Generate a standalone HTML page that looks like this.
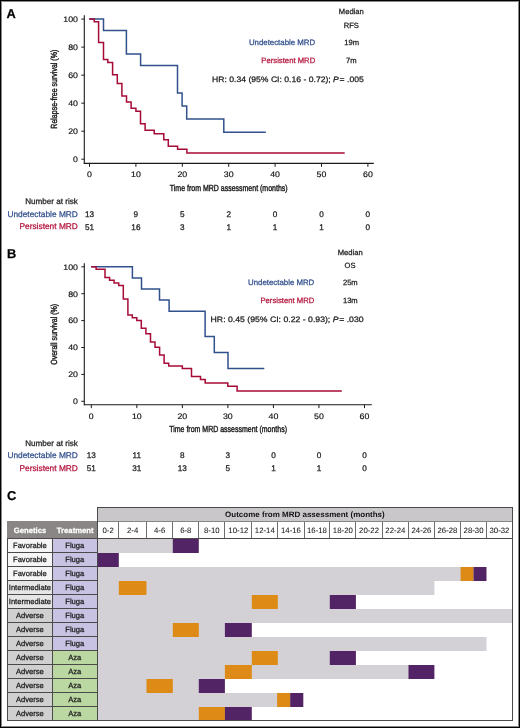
<!DOCTYPE html>
<html><head><meta charset="utf-8"><style>
html,body{margin:0;padding:0;background:#fff;}
#w{position:relative;width:520px;height:728px;overflow:hidden;background:#fff;}
#w svg{position:absolute;left:0;top:0;will-change:transform;}
#w svg text{font-family:"Liberation Sans", sans-serif;text-rendering:geometricPrecision;}
#bd{position:absolute;left:0;top:0;width:518px;height:726px;border:1px solid #000;}
</style></head><body><div id="w">
<svg width="520" height="728" viewBox="0 0 520 728">
<text x="6.40" y="18.00" font-size="12.8" fill="#000" stroke="#000" stroke-width="0.25" font-weight="bold">A</text>
<line x1="84.30" y1="15.30" x2="84.30" y2="163.90" stroke="#1a1a1a" stroke-width="1.1"/>
<line x1="83.80" y1="163.40" x2="373.80" y2="163.40" stroke="#1a1a1a" stroke-width="1.1"/>
<line x1="81.30" y1="159.20" x2="84.30" y2="159.20" stroke="#1a1a1a" stroke-width="1"/>
<text x="78.00" y="162.05" font-size="8.0" fill="#0a0a0a" stroke="#0a0a0a" stroke-width="0.15" text-anchor="end" textLength="4.89" lengthAdjust="spacingAndGlyphs">0</text>
<line x1="81.30" y1="131.18" x2="84.30" y2="131.18" stroke="#1a1a1a" stroke-width="1"/>
<text x="78.00" y="134.03" font-size="8.0" fill="#0a0a0a" stroke="#0a0a0a" stroke-width="0.15" text-anchor="end" textLength="9.79" lengthAdjust="spacingAndGlyphs">20</text>
<line x1="81.30" y1="103.16" x2="84.30" y2="103.16" stroke="#1a1a1a" stroke-width="1"/>
<text x="78.00" y="106.01" font-size="8.0" fill="#0a0a0a" stroke="#0a0a0a" stroke-width="0.15" text-anchor="end" textLength="9.79" lengthAdjust="spacingAndGlyphs">40</text>
<line x1="81.30" y1="75.14" x2="84.30" y2="75.14" stroke="#1a1a1a" stroke-width="1"/>
<text x="78.00" y="77.99" font-size="8.0" fill="#0a0a0a" stroke="#0a0a0a" stroke-width="0.15" text-anchor="end" textLength="9.79" lengthAdjust="spacingAndGlyphs">60</text>
<line x1="81.30" y1="47.12" x2="84.30" y2="47.12" stroke="#1a1a1a" stroke-width="1"/>
<text x="78.00" y="49.97" font-size="8.0" fill="#0a0a0a" stroke="#0a0a0a" stroke-width="0.15" text-anchor="end" textLength="9.79" lengthAdjust="spacingAndGlyphs">80</text>
<line x1="81.30" y1="19.10" x2="84.30" y2="19.10" stroke="#1a1a1a" stroke-width="1"/>
<text x="78.00" y="21.95" font-size="8.0" fill="#0a0a0a" stroke="#0a0a0a" stroke-width="0.15" text-anchor="end" textLength="14.68" lengthAdjust="spacingAndGlyphs">100</text>
<line x1="89.50" y1="163.40" x2="89.50" y2="166.80" stroke="#1a1a1a" stroke-width="1"/>
<text x="89.50" y="177.40" font-size="8.0" fill="#0a0a0a" stroke="#0a0a0a" stroke-width="0.15" text-anchor="middle" textLength="4.89" lengthAdjust="spacingAndGlyphs">0</text>
<line x1="135.90" y1="163.40" x2="135.90" y2="166.80" stroke="#1a1a1a" stroke-width="1"/>
<text x="135.90" y="177.40" font-size="8.0" fill="#0a0a0a" stroke="#0a0a0a" stroke-width="0.15" text-anchor="middle" textLength="9.79" lengthAdjust="spacingAndGlyphs">10</text>
<line x1="182.30" y1="163.40" x2="182.30" y2="166.80" stroke="#1a1a1a" stroke-width="1"/>
<text x="182.30" y="177.40" font-size="8.0" fill="#0a0a0a" stroke="#0a0a0a" stroke-width="0.15" text-anchor="middle" textLength="9.79" lengthAdjust="spacingAndGlyphs">20</text>
<line x1="228.70" y1="163.40" x2="228.70" y2="166.80" stroke="#1a1a1a" stroke-width="1"/>
<text x="228.70" y="177.40" font-size="8.0" fill="#0a0a0a" stroke="#0a0a0a" stroke-width="0.15" text-anchor="middle" textLength="9.79" lengthAdjust="spacingAndGlyphs">30</text>
<line x1="275.10" y1="163.40" x2="275.10" y2="166.80" stroke="#1a1a1a" stroke-width="1"/>
<text x="275.10" y="177.40" font-size="8.0" fill="#0a0a0a" stroke="#0a0a0a" stroke-width="0.15" text-anchor="middle" textLength="9.79" lengthAdjust="spacingAndGlyphs">40</text>
<line x1="321.50" y1="163.40" x2="321.50" y2="166.80" stroke="#1a1a1a" stroke-width="1"/>
<text x="321.50" y="177.40" font-size="8.0" fill="#0a0a0a" stroke="#0a0a0a" stroke-width="0.15" text-anchor="middle" textLength="9.79" lengthAdjust="spacingAndGlyphs">50</text>
<line x1="367.90" y1="163.40" x2="367.90" y2="166.80" stroke="#1a1a1a" stroke-width="1"/>
<text x="367.90" y="177.40" font-size="8.0" fill="#0a0a0a" stroke="#0a0a0a" stroke-width="0.15" text-anchor="middle" textLength="9.79" lengthAdjust="spacingAndGlyphs">60</text>
<path d="M89.20,18.90H103.50V30.40H126.40V54.00H140.60V65.60H177.50V92.90H182.10V105.90H186.70V119.00H223.80V132.30H265.80" fill="none" stroke="#31518b" stroke-width="1.5" stroke-linejoin="miter" stroke-linecap="butt"/>
<path d="M89.20,18.90H94.20V21.70H98.60V42.40H103.50V59.40H107.80V62.50H112.60V74.70H117.30V83.40H121.90V95.90H126.50V101.90H131.10V108.30H135.90V111.20H140.50V123.80H145.10V130.20H154.20V133.70H163.80V139.80H168.30V146.20H177.60V149.20H186.90V152.90H344.70" fill="none" stroke="#a60b36" stroke-width="1.5" stroke-linejoin="miter" stroke-linecap="butt"/>
<text x="351.30" y="14.40" font-size="7.6" fill="#1a1a1a" stroke="#1a1a1a" stroke-width="0.25" text-anchor="middle">Median</text>
<text x="351.30" y="28.00" font-size="7.6" fill="#1a1a1a" stroke="#1a1a1a" stroke-width="0.25" text-anchor="middle">RFS</text>
<text x="315.20" y="45.00" font-size="7.85" fill="#32508d" stroke="#32508d" stroke-width="0.25" text-anchor="end">Undetectable MRD</text>
<text x="351.60" y="45.00" font-size="7.6" fill="#1a1a1a" stroke="#1a1a1a" stroke-width="0.25" text-anchor="middle">19m</text>
<text x="315.20" y="62.80" font-size="7.7" fill="#b3143d" stroke="#b3143d" stroke-width="0.25" text-anchor="end">Persistent MRD</text>
<text x="351.40" y="62.80" font-size="7.6" fill="#1a1a1a" stroke="#1a1a1a" stroke-width="0.25" text-anchor="middle">7m</text>
<text x="212.00" y="81.90" font-size="7.9" fill="#1a1a1a" stroke="#1a1a1a" stroke-width="0.25" textLength="151.80" lengthAdjust="spacingAndGlyphs">HR: 0.34 (95% CI: 0.16 - 0.72); <tspan font-style="italic">P</tspan>&#8202;= .005</text>
<text x="0.00" y="0.00" font-size="8.9" fill="#1a1a1a" stroke="#1a1a1a" stroke-width="0.4" transform="translate(56.6,89.2) rotate(-90)" text-anchor="middle" textLength="79" lengthAdjust="spacingAndGlyphs">Relapse-free survival (%)</text>
<text x="169.80" y="191.00" font-size="8.8" fill="#1a1a1a" stroke="#1a1a1a" stroke-width="0.4" textLength="117.80" lengthAdjust="spacingAndGlyphs">Time from MRD assessment (months)</text>
<text x="77.90" y="204.20" font-size="8.1" fill="#1a1a1a" stroke="#1a1a1a" stroke-width="0.25" text-anchor="end">Number at risk</text>
<text x="77.90" y="216.80" font-size="8.35" fill="#32508d" stroke="#32508d" stroke-width="0.25" text-anchor="end">Undetectable MRD</text>
<text x="77.90" y="229.40" font-size="8.35" fill="#b3143d" stroke="#b3143d" stroke-width="0.25" text-anchor="end">Persistent MRD</text>
<text x="89.50" y="216.90" font-size="8.2" fill="#1a1a1a" stroke="#1a1a1a" stroke-width="0.25" text-anchor="middle">13</text>
<text x="89.50" y="229.60" font-size="8.2" fill="#1a1a1a" stroke="#1a1a1a" stroke-width="0.25" text-anchor="middle">51</text>
<text x="135.90" y="216.90" font-size="8.2" fill="#1a1a1a" stroke="#1a1a1a" stroke-width="0.25" text-anchor="middle">9</text>
<text x="135.90" y="229.60" font-size="8.2" fill="#1a1a1a" stroke="#1a1a1a" stroke-width="0.25" text-anchor="middle">16</text>
<text x="182.30" y="216.90" font-size="8.2" fill="#1a1a1a" stroke="#1a1a1a" stroke-width="0.25" text-anchor="middle">5</text>
<text x="182.30" y="229.60" font-size="8.2" fill="#1a1a1a" stroke="#1a1a1a" stroke-width="0.25" text-anchor="middle">3</text>
<text x="228.70" y="216.90" font-size="8.2" fill="#1a1a1a" stroke="#1a1a1a" stroke-width="0.25" text-anchor="middle">2</text>
<text x="228.70" y="229.60" font-size="8.2" fill="#1a1a1a" stroke="#1a1a1a" stroke-width="0.25" text-anchor="middle">1</text>
<text x="275.10" y="216.90" font-size="8.2" fill="#1a1a1a" stroke="#1a1a1a" stroke-width="0.25" text-anchor="middle">0</text>
<text x="275.10" y="229.60" font-size="8.2" fill="#1a1a1a" stroke="#1a1a1a" stroke-width="0.25" text-anchor="middle">1</text>
<text x="321.50" y="216.90" font-size="8.2" fill="#1a1a1a" stroke="#1a1a1a" stroke-width="0.25" text-anchor="middle">0</text>
<text x="321.50" y="229.60" font-size="8.2" fill="#1a1a1a" stroke="#1a1a1a" stroke-width="0.25" text-anchor="middle">1</text>
<text x="367.90" y="216.90" font-size="8.2" fill="#1a1a1a" stroke="#1a1a1a" stroke-width="0.25" text-anchor="middle">0</text>
<text x="367.90" y="229.60" font-size="8.2" fill="#1a1a1a" stroke="#1a1a1a" stroke-width="0.25" text-anchor="middle">0</text>
<text x="6.90" y="258.30" font-size="12.8" fill="#000" stroke="#000" stroke-width="0.25" font-weight="bold">B</text>
<line x1="84.30" y1="263.20" x2="84.30" y2="405.20" stroke="#1a1a1a" stroke-width="1.1"/>
<line x1="83.80" y1="404.70" x2="371.80" y2="404.70" stroke="#1a1a1a" stroke-width="1.1"/>
<line x1="81.30" y1="401.30" x2="84.30" y2="401.30" stroke="#1a1a1a" stroke-width="1"/>
<text x="78.00" y="404.15" font-size="8.0" fill="#0a0a0a" stroke="#0a0a0a" stroke-width="0.15" text-anchor="end" textLength="4.89" lengthAdjust="spacingAndGlyphs">0</text>
<line x1="81.30" y1="374.40" x2="84.30" y2="374.40" stroke="#1a1a1a" stroke-width="1"/>
<text x="78.00" y="377.25" font-size="8.0" fill="#0a0a0a" stroke="#0a0a0a" stroke-width="0.15" text-anchor="end" textLength="9.79" lengthAdjust="spacingAndGlyphs">20</text>
<line x1="81.30" y1="347.50" x2="84.30" y2="347.50" stroke="#1a1a1a" stroke-width="1"/>
<text x="78.00" y="350.35" font-size="8.0" fill="#0a0a0a" stroke="#0a0a0a" stroke-width="0.15" text-anchor="end" textLength="9.79" lengthAdjust="spacingAndGlyphs">40</text>
<line x1="81.30" y1="320.60" x2="84.30" y2="320.60" stroke="#1a1a1a" stroke-width="1"/>
<text x="78.00" y="323.45" font-size="8.0" fill="#0a0a0a" stroke="#0a0a0a" stroke-width="0.15" text-anchor="end" textLength="9.79" lengthAdjust="spacingAndGlyphs">60</text>
<line x1="81.30" y1="293.70" x2="84.30" y2="293.70" stroke="#1a1a1a" stroke-width="1"/>
<text x="78.00" y="296.55" font-size="8.0" fill="#0a0a0a" stroke="#0a0a0a" stroke-width="0.15" text-anchor="end" textLength="9.79" lengthAdjust="spacingAndGlyphs">80</text>
<line x1="81.30" y1="266.80" x2="84.30" y2="266.80" stroke="#1a1a1a" stroke-width="1"/>
<text x="78.00" y="269.65" font-size="8.0" fill="#0a0a0a" stroke="#0a0a0a" stroke-width="0.15" text-anchor="end" textLength="14.68" lengthAdjust="spacingAndGlyphs">100</text>
<line x1="91.30" y1="404.70" x2="91.30" y2="408.10" stroke="#1a1a1a" stroke-width="1"/>
<text x="91.30" y="418.70" font-size="8.0" fill="#0a0a0a" stroke="#0a0a0a" stroke-width="0.15" text-anchor="middle" textLength="4.89" lengthAdjust="spacingAndGlyphs">0</text>
<line x1="136.83" y1="404.70" x2="136.83" y2="408.10" stroke="#1a1a1a" stroke-width="1"/>
<text x="136.83" y="418.70" font-size="8.0" fill="#0a0a0a" stroke="#0a0a0a" stroke-width="0.15" text-anchor="middle" textLength="9.79" lengthAdjust="spacingAndGlyphs">10</text>
<line x1="182.36" y1="404.70" x2="182.36" y2="408.10" stroke="#1a1a1a" stroke-width="1"/>
<text x="182.36" y="418.70" font-size="8.0" fill="#0a0a0a" stroke="#0a0a0a" stroke-width="0.15" text-anchor="middle" textLength="9.79" lengthAdjust="spacingAndGlyphs">20</text>
<line x1="227.89" y1="404.70" x2="227.89" y2="408.10" stroke="#1a1a1a" stroke-width="1"/>
<text x="227.89" y="418.70" font-size="8.0" fill="#0a0a0a" stroke="#0a0a0a" stroke-width="0.15" text-anchor="middle" textLength="9.79" lengthAdjust="spacingAndGlyphs">30</text>
<line x1="273.42" y1="404.70" x2="273.42" y2="408.10" stroke="#1a1a1a" stroke-width="1"/>
<text x="273.42" y="418.70" font-size="8.0" fill="#0a0a0a" stroke="#0a0a0a" stroke-width="0.15" text-anchor="middle" textLength="9.79" lengthAdjust="spacingAndGlyphs">40</text>
<line x1="318.95" y1="404.70" x2="318.95" y2="408.10" stroke="#1a1a1a" stroke-width="1"/>
<text x="318.95" y="418.70" font-size="8.0" fill="#0a0a0a" stroke="#0a0a0a" stroke-width="0.15" text-anchor="middle" textLength="9.79" lengthAdjust="spacingAndGlyphs">50</text>
<line x1="364.48" y1="404.70" x2="364.48" y2="408.10" stroke="#1a1a1a" stroke-width="1"/>
<text x="364.48" y="418.70" font-size="8.0" fill="#0a0a0a" stroke="#0a0a0a" stroke-width="0.15" text-anchor="middle" textLength="9.79" lengthAdjust="spacingAndGlyphs">60</text>
<path d="M91.20,266.70H132.40V277.90H141.50V288.90H159.50V300.00H169.10V311.20H205.10V336.50H214.30V352.60H228.00V368.50H264.30" fill="none" stroke="#31518b" stroke-width="1.5" stroke-linejoin="miter" stroke-linecap="butt"/>
<path d="M91.20,266.70H96.10V269.30H105.00V277.50H109.60V280.30H114.10V283.00H118.70V285.60H123.30V299.10H127.90V315.00H132.30V317.70H136.80V320.60H141.30V328.30H145.90V333.70H150.50V342.10H155.00V347.30H159.60V355.00H164.10V363.30H168.70V366.00H182.30V368.60H191.50V376.50H200.50V379.60H205.20V382.90H227.80V386.20H237.10V391.10H341.80" fill="none" stroke="#a60b36" stroke-width="1.5" stroke-linejoin="miter" stroke-linecap="butt"/>
<text x="350.20" y="254.70" font-size="7.6" fill="#1a1a1a" stroke="#1a1a1a" stroke-width="0.25" text-anchor="middle">Median</text>
<text x="350.10" y="268.30" font-size="7.6" fill="#1a1a1a" stroke="#1a1a1a" stroke-width="0.25" text-anchor="middle">OS</text>
<text x="314.30" y="284.90" font-size="7.85" fill="#32508d" stroke="#32508d" stroke-width="0.25" text-anchor="end">Undetectable MRD</text>
<text x="350.30" y="285.00" font-size="7.6" fill="#1a1a1a" stroke="#1a1a1a" stroke-width="0.25" text-anchor="middle">25m</text>
<text x="314.30" y="302.80" font-size="7.7" fill="#b3143d" stroke="#b3143d" stroke-width="0.25" text-anchor="end">Persistent MRD</text>
<text x="350.30" y="302.90" font-size="7.6" fill="#1a1a1a" stroke="#1a1a1a" stroke-width="0.25" text-anchor="middle">13m</text>
<text x="210.60" y="322.00" font-size="7.9" fill="#1a1a1a" stroke="#1a1a1a" stroke-width="0.25" textLength="153.00" lengthAdjust="spacingAndGlyphs">HR: 0.45 (95% CI: 0.22 - 0.93); <tspan font-style="italic">P</tspan>&#8202;= .030</text>
<text x="0.00" y="0.00" font-size="8.9" fill="#1a1a1a" stroke="#1a1a1a" stroke-width="0.4" transform="translate(56.6,334.3) rotate(-90)" text-anchor="middle" textLength="61" lengthAdjust="spacingAndGlyphs">Overall survival (%)</text>
<text x="169.20" y="432.20" font-size="8.8" fill="#1a1a1a" stroke="#1a1a1a" stroke-width="0.4" textLength="117.80" lengthAdjust="spacingAndGlyphs">Time from MRD assessment (months)</text>
<text x="77.90" y="445.60" font-size="8.1" fill="#1a1a1a" stroke="#1a1a1a" stroke-width="0.25" text-anchor="end">Number at risk</text>
<text x="77.90" y="458.10" font-size="8.35" fill="#32508d" stroke="#32508d" stroke-width="0.25" text-anchor="end">Undetectable MRD</text>
<text x="77.90" y="470.80" font-size="8.35" fill="#b3143d" stroke="#b3143d" stroke-width="0.25" text-anchor="end">Persistent MRD</text>
<text x="91.30" y="458.10" font-size="8.2" fill="#1a1a1a" stroke="#1a1a1a" stroke-width="0.25" text-anchor="middle">13</text>
<text x="91.30" y="470.60" font-size="8.2" fill="#1a1a1a" stroke="#1a1a1a" stroke-width="0.25" text-anchor="middle">51</text>
<text x="136.83" y="458.10" font-size="8.2" fill="#1a1a1a" stroke="#1a1a1a" stroke-width="0.25" text-anchor="middle">11</text>
<text x="136.83" y="470.60" font-size="8.2" fill="#1a1a1a" stroke="#1a1a1a" stroke-width="0.25" text-anchor="middle">31</text>
<text x="182.36" y="458.10" font-size="8.2" fill="#1a1a1a" stroke="#1a1a1a" stroke-width="0.25" text-anchor="middle">8</text>
<text x="182.36" y="470.60" font-size="8.2" fill="#1a1a1a" stroke="#1a1a1a" stroke-width="0.25" text-anchor="middle">13</text>
<text x="227.89" y="458.10" font-size="8.2" fill="#1a1a1a" stroke="#1a1a1a" stroke-width="0.25" text-anchor="middle">3</text>
<text x="227.89" y="470.60" font-size="8.2" fill="#1a1a1a" stroke="#1a1a1a" stroke-width="0.25" text-anchor="middle">5</text>
<text x="273.42" y="458.10" font-size="8.2" fill="#1a1a1a" stroke="#1a1a1a" stroke-width="0.25" text-anchor="middle">0</text>
<text x="273.42" y="470.60" font-size="8.2" fill="#1a1a1a" stroke="#1a1a1a" stroke-width="0.25" text-anchor="middle">1</text>
<text x="318.95" y="458.10" font-size="8.2" fill="#1a1a1a" stroke="#1a1a1a" stroke-width="0.25" text-anchor="middle">0</text>
<text x="318.95" y="470.60" font-size="8.2" fill="#1a1a1a" stroke="#1a1a1a" stroke-width="0.25" text-anchor="middle">1</text>
<text x="364.48" y="458.10" font-size="8.2" fill="#1a1a1a" stroke="#1a1a1a" stroke-width="0.25" text-anchor="middle">0</text>
<text x="364.48" y="470.60" font-size="8.2" fill="#1a1a1a" stroke="#1a1a1a" stroke-width="0.25" text-anchor="middle">0</text>
<text x="7.00" y="500.20" font-size="12.8" fill="#000" stroke="#000" stroke-width="0.25" font-weight="bold">C</text>
<rect x="97.00" y="507.00" width="415.00" height="14.00" fill="#c9c7c9"/>
<text x="304.90" y="516.50" font-size="7.8" fill="#111" font-weight="bold" text-anchor="middle" textLength="159.60" lengthAdjust="spacingAndGlyphs">Outcome from MRD assessment (months)</text>
<rect x="7.00" y="521.00" width="90.00" height="17.00" fill="#8a8685"/>
<text x="30.00" y="532.60" font-size="7.7" fill="#fff" stroke="#fff" stroke-width="0.25" font-weight="bold" text-anchor="middle">Genetics</text>
<text x="75.20" y="532.80" font-size="7.7" fill="#fff" stroke="#fff" stroke-width="0.25" font-weight="bold" text-anchor="middle">Treatment</text>
<rect x="97.00" y="521.00" width="415.00" height="17.00" fill="#fff"/>
<text x="108.10" y="532.60" font-size="7.8" fill="#1a1a1a" stroke="#1a1a1a" stroke-width="0.05" text-anchor="middle">0-2</text>
<text x="132.65" y="532.60" font-size="7.8" fill="#1a1a1a" stroke="#1a1a1a" stroke-width="0.05" text-anchor="middle">2-4</text>
<text x="159.65" y="532.60" font-size="7.8" fill="#1a1a1a" stroke="#1a1a1a" stroke-width="0.05" text-anchor="middle">4-6</text>
<text x="185.80" y="532.60" font-size="7.8" fill="#1a1a1a" stroke="#1a1a1a" stroke-width="0.05" text-anchor="middle">6-8</text>
<text x="211.85" y="532.60" font-size="7.8" fill="#1a1a1a" stroke="#1a1a1a" stroke-width="0.05" text-anchor="middle">8-10</text>
<text x="238.35" y="532.60" font-size="7.8" fill="#1a1a1a" stroke="#1a1a1a" stroke-width="0.05" text-anchor="middle">10-12</text>
<text x="264.80" y="532.60" font-size="7.8" fill="#1a1a1a" stroke="#1a1a1a" stroke-width="0.05" text-anchor="middle">12-14</text>
<text x="291.00" y="532.60" font-size="7.8" fill="#1a1a1a" stroke="#1a1a1a" stroke-width="0.05" text-anchor="middle">14-16</text>
<text x="317.00" y="532.60" font-size="7.8" fill="#1a1a1a" stroke="#1a1a1a" stroke-width="0.05" text-anchor="middle">16-18</text>
<text x="342.85" y="532.60" font-size="7.8" fill="#1a1a1a" stroke="#1a1a1a" stroke-width="0.05" text-anchor="middle">18-20</text>
<text x="369.05" y="532.60" font-size="7.8" fill="#1a1a1a" stroke="#1a1a1a" stroke-width="0.05" text-anchor="middle">20-22</text>
<text x="395.35" y="532.60" font-size="7.8" fill="#1a1a1a" stroke="#1a1a1a" stroke-width="0.05" text-anchor="middle">22-24</text>
<text x="421.45" y="532.60" font-size="7.8" fill="#1a1a1a" stroke="#1a1a1a" stroke-width="0.05" text-anchor="middle">24-26</text>
<text x="447.50" y="532.60" font-size="7.8" fill="#1a1a1a" stroke="#1a1a1a" stroke-width="0.05" text-anchor="middle">26-28</text>
<text x="473.55" y="532.60" font-size="7.8" fill="#1a1a1a" stroke="#1a1a1a" stroke-width="0.05" text-anchor="middle">28-30</text>
<text x="499.50" y="532.60" font-size="7.8" fill="#1a1a1a" stroke="#1a1a1a" stroke-width="0.05" text-anchor="middle">30-32</text>
<rect x="7.00" y="539.00" width="45.00" height="14.00" fill="#f6f6f6"/>
<rect x="52.00" y="539.00" width="45.00" height="14.00" fill="#c8c2e3"/>
<text x="29.90" y="548.00" font-size="7.6" fill="#1a1a1a" stroke="#1a1a1a" stroke-width="0.25" text-anchor="middle">Favorable</text>
<text x="74.80" y="548.00" font-size="7.6" fill="#1a1a1a" stroke="#1a1a1a" stroke-width="0.25" text-anchor="middle">Fluga</text>
<rect x="98.00" y="539.00" width="75.80" height="14.00" fill="#d3d1d6"/>
<rect x="172.80" y="539.00" width="26.00" height="14.00" fill="#532465"/>
<rect x="7.00" y="553.00" width="45.00" height="14.00" fill="#f6f6f6"/>
<rect x="52.00" y="553.00" width="45.00" height="14.00" fill="#c8c2e3"/>
<text x="29.90" y="562.00" font-size="7.6" fill="#1a1a1a" stroke="#1a1a1a" stroke-width="0.25" text-anchor="middle">Favorable</text>
<text x="74.80" y="562.00" font-size="7.6" fill="#1a1a1a" stroke="#1a1a1a" stroke-width="0.25" text-anchor="middle">Fluga</text>
<rect x="98.00" y="553.00" width="20.80" height="14.00" fill="#532465"/>
<rect x="7.00" y="567.00" width="45.00" height="14.00" fill="#f6f6f6"/>
<rect x="52.00" y="567.00" width="45.00" height="14.00" fill="#c8c2e3"/>
<text x="29.90" y="576.00" font-size="7.6" fill="#1a1a1a" stroke="#1a1a1a" stroke-width="0.25" text-anchor="middle">Favorable</text>
<text x="74.80" y="576.00" font-size="7.6" fill="#1a1a1a" stroke="#1a1a1a" stroke-width="0.25" text-anchor="middle">Fluga</text>
<rect x="98.00" y="567.00" width="376.55" height="14.00" fill="#d3d1d6"/>
<rect x="460.60" y="567.00" width="12.95" height="14.00" fill="#dd8a16"/>
<rect x="473.55" y="567.00" width="12.95" height="14.00" fill="#532465"/>
<rect x="7.00" y="581.00" width="45.00" height="14.00" fill="#e6e6e6"/>
<rect x="52.00" y="581.00" width="45.00" height="14.00" fill="#c8c2e3"/>
<text x="29.90" y="590.00" font-size="7.6" fill="#1a1a1a" stroke="#1a1a1a" stroke-width="0.25" text-anchor="middle">Intermediate</text>
<text x="74.80" y="590.00" font-size="7.6" fill="#1a1a1a" stroke="#1a1a1a" stroke-width="0.25" text-anchor="middle">Fluga</text>
<rect x="98.00" y="581.00" width="336.40" height="14.00" fill="#d3d1d6"/>
<rect x="118.80" y="581.00" width="27.70" height="14.00" fill="#dd8a16"/>
<rect x="7.00" y="595.00" width="45.00" height="14.00" fill="#e6e6e6"/>
<rect x="52.00" y="595.00" width="45.00" height="14.00" fill="#c8c2e3"/>
<text x="29.90" y="604.00" font-size="7.6" fill="#1a1a1a" stroke="#1a1a1a" stroke-width="0.25" text-anchor="middle">Intermediate</text>
<text x="74.80" y="604.00" font-size="7.6" fill="#1a1a1a" stroke="#1a1a1a" stroke-width="0.25" text-anchor="middle">Fluga</text>
<rect x="98.00" y="595.00" width="232.80" height="14.00" fill="#d3d1d6"/>
<rect x="251.80" y="595.00" width="26.00" height="14.00" fill="#dd8a16"/>
<rect x="329.80" y="595.00" width="26.10" height="14.00" fill="#532465"/>
<rect x="7.00" y="609.00" width="45.00" height="14.00" fill="#d0d0d0"/>
<rect x="52.00" y="609.00" width="45.00" height="14.00" fill="#c8c2e3"/>
<text x="29.90" y="618.00" font-size="7.6" fill="#1a1a1a" stroke="#1a1a1a" stroke-width="0.25" text-anchor="middle">Adverse</text>
<text x="74.80" y="618.00" font-size="7.6" fill="#1a1a1a" stroke="#1a1a1a" stroke-width="0.25" text-anchor="middle">Fluga</text>
<rect x="98.00" y="609.00" width="414.50" height="14.00" fill="#d3d1d6"/>
<rect x="7.00" y="623.00" width="45.00" height="14.00" fill="#d0d0d0"/>
<rect x="52.00" y="623.00" width="45.00" height="14.00" fill="#c8c2e3"/>
<text x="29.90" y="632.00" font-size="7.6" fill="#1a1a1a" stroke="#1a1a1a" stroke-width="0.25" text-anchor="middle">Adverse</text>
<text x="74.80" y="632.00" font-size="7.6" fill="#1a1a1a" stroke="#1a1a1a" stroke-width="0.25" text-anchor="middle">Fluga</text>
<rect x="98.00" y="623.00" width="127.90" height="14.00" fill="#d3d1d6"/>
<rect x="172.80" y="623.00" width="26.00" height="14.00" fill="#dd8a16"/>
<rect x="224.90" y="623.00" width="26.90" height="14.00" fill="#532465"/>
<rect x="7.00" y="637.00" width="45.00" height="14.00" fill="#d0d0d0"/>
<rect x="52.00" y="637.00" width="45.00" height="14.00" fill="#c8c2e3"/>
<text x="29.90" y="646.00" font-size="7.6" fill="#1a1a1a" stroke="#1a1a1a" stroke-width="0.25" text-anchor="middle">Adverse</text>
<text x="74.80" y="646.00" font-size="7.6" fill="#1a1a1a" stroke="#1a1a1a" stroke-width="0.25" text-anchor="middle">Fluga</text>
<rect x="98.00" y="637.00" width="388.50" height="14.00" fill="#d3d1d6"/>
<rect x="7.00" y="651.00" width="45.00" height="14.00" fill="#d0d0d0"/>
<rect x="52.00" y="651.00" width="45.00" height="14.00" fill="#bcd8a2"/>
<text x="29.90" y="660.00" font-size="7.6" fill="#1a1a1a" stroke="#1a1a1a" stroke-width="0.25" text-anchor="middle">Adverse</text>
<text x="74.80" y="660.00" font-size="7.6" fill="#1a1a1a" stroke="#1a1a1a" stroke-width="0.25" text-anchor="middle">Aza</text>
<rect x="98.00" y="651.00" width="232.80" height="14.00" fill="#d3d1d6"/>
<rect x="251.80" y="651.00" width="26.00" height="14.00" fill="#dd8a16"/>
<rect x="329.80" y="651.00" width="26.10" height="14.00" fill="#532465"/>
<rect x="7.00" y="665.00" width="45.00" height="14.00" fill="#d0d0d0"/>
<rect x="52.00" y="665.00" width="45.00" height="14.00" fill="#bcd8a2"/>
<text x="29.90" y="674.00" font-size="7.6" fill="#1a1a1a" stroke="#1a1a1a" stroke-width="0.25" text-anchor="middle">Adverse</text>
<text x="74.80" y="674.00" font-size="7.6" fill="#1a1a1a" stroke="#1a1a1a" stroke-width="0.25" text-anchor="middle">Aza</text>
<rect x="98.00" y="665.00" width="311.50" height="14.00" fill="#d3d1d6"/>
<rect x="224.90" y="665.00" width="26.90" height="14.00" fill="#dd8a16"/>
<rect x="408.50" y="665.00" width="25.90" height="14.00" fill="#532465"/>
<rect x="7.00" y="679.00" width="45.00" height="14.00" fill="#d0d0d0"/>
<rect x="52.00" y="679.00" width="45.00" height="14.00" fill="#bcd8a2"/>
<text x="29.90" y="688.00" font-size="7.6" fill="#1a1a1a" stroke="#1a1a1a" stroke-width="0.25" text-anchor="middle">Adverse</text>
<text x="74.80" y="688.00" font-size="7.6" fill="#1a1a1a" stroke="#1a1a1a" stroke-width="0.25" text-anchor="middle">Aza</text>
<rect x="98.00" y="679.00" width="101.80" height="14.00" fill="#d3d1d6"/>
<rect x="146.50" y="679.00" width="26.30" height="14.00" fill="#dd8a16"/>
<rect x="198.80" y="679.00" width="26.10" height="14.00" fill="#532465"/>
<rect x="7.00" y="693.00" width="45.00" height="14.00" fill="#d0d0d0"/>
<rect x="52.00" y="693.00" width="45.00" height="14.00" fill="#bcd8a2"/>
<text x="29.90" y="702.00" font-size="7.6" fill="#1a1a1a" stroke="#1a1a1a" stroke-width="0.25" text-anchor="middle">Adverse</text>
<text x="74.80" y="702.00" font-size="7.6" fill="#1a1a1a" stroke="#1a1a1a" stroke-width="0.25" text-anchor="middle">Aza</text>
<rect x="98.00" y="693.00" width="193.21" height="14.00" fill="#d3d1d6"/>
<rect x="277.10" y="693.00" width="13.11" height="14.00" fill="#dd8a16"/>
<rect x="290.21" y="693.00" width="13.09" height="14.00" fill="#532465"/>
<rect x="7.00" y="707.00" width="45.00" height="14.00" fill="#d0d0d0"/>
<rect x="52.00" y="707.00" width="45.00" height="14.00" fill="#bcd8a2"/>
<text x="29.90" y="716.00" font-size="7.6" fill="#1a1a1a" stroke="#1a1a1a" stroke-width="0.25" text-anchor="middle">Adverse</text>
<text x="74.80" y="716.00" font-size="7.6" fill="#1a1a1a" stroke="#1a1a1a" stroke-width="0.25" text-anchor="middle">Aza</text>
<rect x="98.00" y="707.00" width="127.90" height="14.00" fill="#d3d1d6"/>
<rect x="198.80" y="707.00" width="26.10" height="14.00" fill="#dd8a16"/>
<rect x="224.90" y="707.00" width="26.90" height="14.00" fill="#532465"/>
<line x1="7.00" y1="538.50" x2="97.50" y2="538.50" stroke="#4a4a4a" stroke-width="1"/>
<line x1="7.00" y1="552.50" x2="97.50" y2="552.50" stroke="#4a4a4a" stroke-width="1"/>
<line x1="7.00" y1="566.50" x2="97.50" y2="566.50" stroke="#4a4a4a" stroke-width="1"/>
<line x1="7.00" y1="580.50" x2="97.50" y2="580.50" stroke="#4a4a4a" stroke-width="1"/>
<line x1="7.00" y1="594.50" x2="97.50" y2="594.50" stroke="#4a4a4a" stroke-width="1"/>
<line x1="7.00" y1="608.50" x2="97.50" y2="608.50" stroke="#4a4a4a" stroke-width="1"/>
<line x1="7.00" y1="622.50" x2="97.50" y2="622.50" stroke="#4a4a4a" stroke-width="1"/>
<line x1="7.00" y1="636.50" x2="97.50" y2="636.50" stroke="#4a4a4a" stroke-width="1"/>
<line x1="7.00" y1="650.50" x2="97.50" y2="650.50" stroke="#4a4a4a" stroke-width="1"/>
<line x1="7.00" y1="664.50" x2="97.50" y2="664.50" stroke="#4a4a4a" stroke-width="1"/>
<line x1="7.00" y1="678.50" x2="97.50" y2="678.50" stroke="#4a4a4a" stroke-width="1"/>
<line x1="7.00" y1="692.50" x2="97.50" y2="692.50" stroke="#4a4a4a" stroke-width="1"/>
<line x1="7.00" y1="706.50" x2="97.50" y2="706.50" stroke="#4a4a4a" stroke-width="1"/>
<line x1="7.00" y1="720.50" x2="97.50" y2="720.50" stroke="#4a4a4a" stroke-width="1"/>
<line x1="97.00" y1="538.50" x2="513.00" y2="538.50" stroke="#4a4a4a" stroke-width="1"/>
<line x1="97.00" y1="521.50" x2="513.00" y2="521.50" stroke="#858585" stroke-width="1"/>
<line x1="97.00" y1="507.50" x2="513.00" y2="507.50" stroke="#4a4a4a" stroke-width="1"/>
<line x1="118.50" y1="522.00" x2="118.50" y2="538.00" stroke="#6e6e6e" stroke-width="1"/>
<line x1="146.50" y1="522.00" x2="146.50" y2="538.00" stroke="#6e6e6e" stroke-width="1"/>
<line x1="172.50" y1="522.00" x2="172.50" y2="538.00" stroke="#6e6e6e" stroke-width="1"/>
<line x1="198.50" y1="522.00" x2="198.50" y2="538.00" stroke="#6e6e6e" stroke-width="1"/>
<line x1="224.50" y1="522.00" x2="224.50" y2="538.00" stroke="#6e6e6e" stroke-width="1"/>
<line x1="251.50" y1="522.00" x2="251.50" y2="538.00" stroke="#6e6e6e" stroke-width="1"/>
<line x1="277.50" y1="522.00" x2="277.50" y2="538.00" stroke="#6e6e6e" stroke-width="1"/>
<line x1="304.50" y1="522.00" x2="304.50" y2="538.00" stroke="#6e6e6e" stroke-width="1"/>
<line x1="329.50" y1="522.00" x2="329.50" y2="538.00" stroke="#6e6e6e" stroke-width="1"/>
<line x1="355.50" y1="522.00" x2="355.50" y2="538.00" stroke="#6e6e6e" stroke-width="1"/>
<line x1="382.50" y1="522.00" x2="382.50" y2="538.00" stroke="#6e6e6e" stroke-width="1"/>
<line x1="408.50" y1="522.00" x2="408.50" y2="538.00" stroke="#6e6e6e" stroke-width="1"/>
<line x1="434.50" y1="522.00" x2="434.50" y2="538.00" stroke="#6e6e6e" stroke-width="1"/>
<line x1="460.50" y1="522.00" x2="460.50" y2="538.00" stroke="#6e6e6e" stroke-width="1"/>
<line x1="486.50" y1="522.00" x2="486.50" y2="538.00" stroke="#6e6e6e" stroke-width="1"/>
<line x1="7.50" y1="538.00" x2="7.50" y2="721.00" stroke="#4a4a4a" stroke-width="1"/>
<line x1="52.50" y1="538.00" x2="52.50" y2="721.00" stroke="#4a4a4a" stroke-width="1"/>
<line x1="97.50" y1="507.00" x2="97.50" y2="721.00" stroke="#4a4a4a" stroke-width="1"/>
<line x1="512.50" y1="507.00" x2="512.50" y2="721.00" stroke="#4a4a4a" stroke-width="1"/>
<line x1="97.00" y1="720.50" x2="513.00" y2="720.50" stroke="#4a4a4a" stroke-width="1"/>
<rect x="1" y="1" width="517" height="725" fill="none" stroke="#8a8a8a" stroke-width="1" transform="translate(0.5,0.5)"/>
</svg><div id="bd"></div></div></body></html>
